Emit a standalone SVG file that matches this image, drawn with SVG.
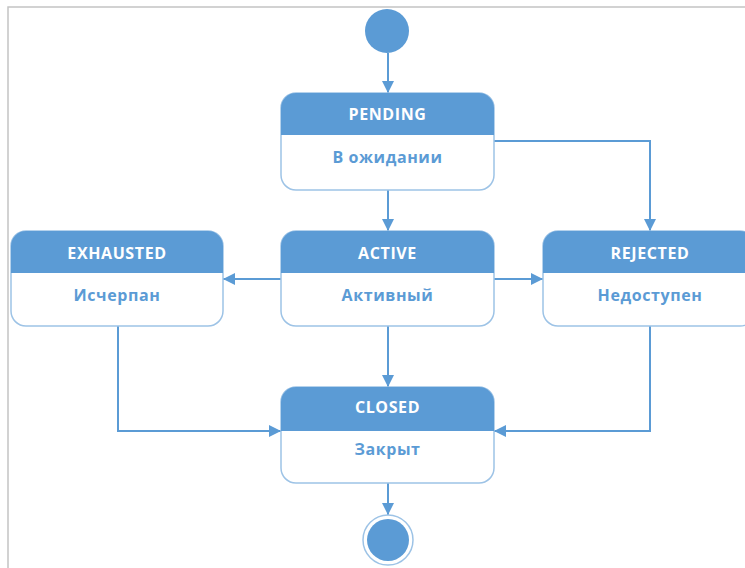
<svg xmlns="http://www.w3.org/2000/svg" width="745" height="568" viewBox="0 0 745 568">
<defs>
<style>
.frame{stroke:#c4c4c4;stroke-width:1.5;fill:none}
.body{fill:#fff;stroke:#9dc3e6;stroke-width:1.5}
.head{fill:#5b9bd5}
.ht{font-family:"Open Sans","Liberation Sans",sans-serif;font-weight:bold;font-size:16px;letter-spacing:0.6px;fill:#fff;text-anchor:middle}
.bt{font-family:"Open Sans","Liberation Sans",sans-serif;font-weight:bold;font-size:16px;letter-spacing:0.6px;fill:#5b9bd5;text-anchor:middle}
.conn{stroke:#5b9bd5;stroke-width:2;fill:none;marker-end:url(#arr)}
</style>
<marker id="arr" viewBox="0 0 12 12" refX="12" refY="6" markerWidth="12" markerHeight="12" markerUnits="userSpaceOnUse" orient="auto">
<path d="M0,0 L12,6 L0,12 Z" fill="#5b9bd5"/>
</marker>
</defs>
<rect width="745" height="568" fill="#fff"/>
<path class="frame" d="M8,568 L8,7 L745,7"/>
<g id="connectors">
<path class="conn" d="M388,53 L388,93"/>
<path class="conn" d="M388,190 L388,231"/>
<path class="conn" d="M494,141 L650,141 L650,231"/>
<path class="conn" d="M281,279 L223,279"/>
<path class="conn" d="M494,279 L543,279"/>
<path class="conn" d="M388,326 L388,387"/>
<path class="conn" d="M118,326 L118,431 L281,431"/>
<path class="conn" d="M650,326 L650,431 L494,431"/>
<path class="conn" d="M388,483 L388,515"/>
</g>
<g id="start">
<circle cx="387" cy="31" r="22" fill="#5b9bd5"/>
</g>
<g id="pending">
<rect class="body" x="281" y="93" width="213" height="97" rx="15"/>
<path class="head" d="M281,135 L281,108 A15,15 0 0 1 296,93 L479,93 A15,15 0 0 1 494,108 L494,135 Z"/>
<text class="ht" x="387.5" y="120">PENDING</text>
<text class="bt" x="387.5" y="163">В ожидании</text>
</g>
<g id="exhausted">
<rect class="body" x="11" y="231" width="212" height="95" rx="15"/>
<path class="head" d="M11,273 L11,246 A15,15 0 0 1 26,231 L208,231 A15,15 0 0 1 223,246 L223,273 Z"/>
<text class="ht" x="117" y="259">EXHAUSTED</text>
<text class="bt" x="117" y="301">Исчерпан</text>
</g>
<g id="active">
<rect class="body" x="281" y="231" width="213" height="95" rx="15"/>
<path class="head" d="M281,273 L281,246 A15,15 0 0 1 296,231 L479,231 A15,15 0 0 1 494,246 L494,273 Z"/>
<text class="ht" x="387.5" y="259">ACTIVE</text>
<text class="bt" x="387.5" y="301">Активный</text>
</g>
<g id="rejected">
<rect class="body" x="543" y="231" width="212" height="95" rx="15"/>
<path class="head" d="M543,273 L543,246 A15,15 0 0 1 558,231 L740,231 A15,15 0 0 1 755,246 L755,273 Z"/>
<text class="ht" x="650" y="259">REJECTED</text>
<text class="bt" x="650" y="301">Недоступен</text>
</g>
<g id="closed">
<rect class="body" x="281" y="387" width="213" height="96" rx="15"/>
<path class="head" d="M281,431 L281,402 A15,15 0 0 1 296,387 L479,387 A15,15 0 0 1 494,402 L494,431 Z"/>
<text class="ht" x="387.5" y="413">CLOSED</text>
<text class="bt" x="387.5" y="455">Закрыт</text>
</g>
<g id="end">
<circle cx="388" cy="540" r="25" fill="#fff" stroke="#9dc3e6" stroke-width="1.5"/>
<circle cx="388" cy="540" r="21" fill="#5b9bd5"/>
</g>
</svg>
